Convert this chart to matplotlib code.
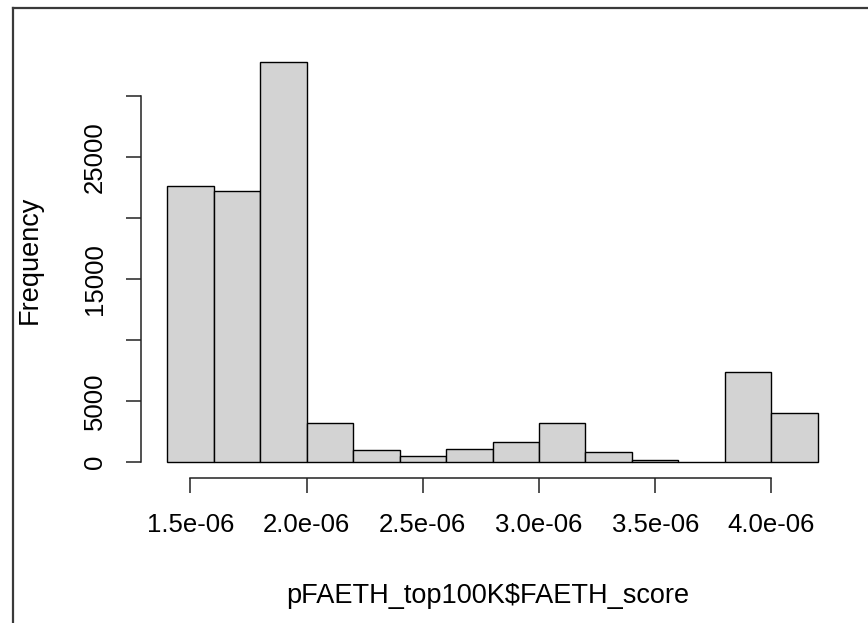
import matplotlib
matplotlib.use("Agg")
import matplotlib.pyplot as plt
from matplotlib.lines import Line2D

plt.rcParams['font.family'] = ['Liberation Sans', 'DejaVu Sans']

# histogram of pFAETH_top100K$FAETH_score, bins of width 0.2e-06
bin_edges = [1.4e-06, 1.6e-06, 1.8e-06, 2.0e-06, 2.2e-06, 2.4e-06, 2.6e-06, 2.8e-06,
             3.0e-06, 3.2e-06, 3.4e-06, 3.6e-06, 3.8e-06, 4.0e-06, 4.2e-06]
counts = [22640, 22230, 32830, 3220, 945, 530, 1085, 1680, 3200, 860, 150, 0, 7380, 4040]

x_ticks = [1.5e-06, 2.0e-06, 2.5e-06, 3.0e-06, 3.5e-06, 4.0e-06]
x_tick_labels = ['1.5e-06', '2.0e-06', '2.5e-06', '3.0e-06', '3.5e-06', '4.0e-06']
y_ticks = [0, 5000, 10000, 15000, 20000, 25000, 30000]
y_tick_labels = ['0', '5000', '', '15000', '', '25000', '']

W, H = 868, 623
fig = plt.figure(figsize=(W / 100, H / 100), dpi=100)
ax = fig.add_axes([141 / W, (H - 478) / H, (844 - 141) / W, (478 - 46) / H])

lefts = bin_edges[:-1]
widths = [b - a for a, b in zip(bin_edges[:-1], bin_edges[1:])]
ax.bar(lefts, counts, width=widths, align='edge', color='#D3D3D3',
       edgecolor='black', linewidth=1.0)

# R style extents: 4% padding around data
x0, x1 = bin_edges[0], bin_edges[-1]
xr = x1 - x0
ax.set_xlim(x0 - 0.04 * xr, x1 + 0.04 * xr)
ymax = max(counts)
ax.set_ylim(-0.04 * ymax, ymax * 1.04)

for side in ['top', 'right']:
    ax.spines[side].set_visible(False)
ax.spines['left'].set_bounds(y_ticks[0], y_ticks[-1])
ax.spines['bottom'].set_bounds(x_ticks[0], x_ticks[-1])
for side in ['left', 'bottom']:
    ax.spines[side].set_linewidth(1.1)
    ax.spines[side].set_color('#222222')

ax.set_xticks(x_ticks)
ax.set_xticklabels(x_tick_labels)
ax.set_yticks(y_ticks)
ax.set_yticklabels(y_tick_labels, rotation=90, va='center')
ax.tick_params(axis='both', direction='out', length=10.8, width=1.1,
               color='#222222', labelsize=18.5)
ax.tick_params(axis='x', pad=14.5)
ax.tick_params(axis='y', pad=14)

fig.text(488 / W, 1 - 603 / H, 'pFAETH_top100K$FAETH_score', ha='center',
         va='baseline', fontsize=19.5)
fig.text(30 / W, 1 - 260 / H, 'Frequency', ha='center', va='center',
         rotation=90, fontsize=19.5)

# outer frame (top and left edges visible)
fig.add_artist(Line2D([12.5 / W, 1.0], [1 - 7.5 / H, 1 - 7.5 / H],
                      transform=fig.transFigure, color='#3a3a3a', linewidth=1.6))
fig.add_artist(Line2D([12.5 / W, 12.5 / W], [0.0, 1 - 7.5 / H],
                      transform=fig.transFigure, color='#3a3a3a', linewidth=1.6))

fig.savefig('out.png', dpi=100)
